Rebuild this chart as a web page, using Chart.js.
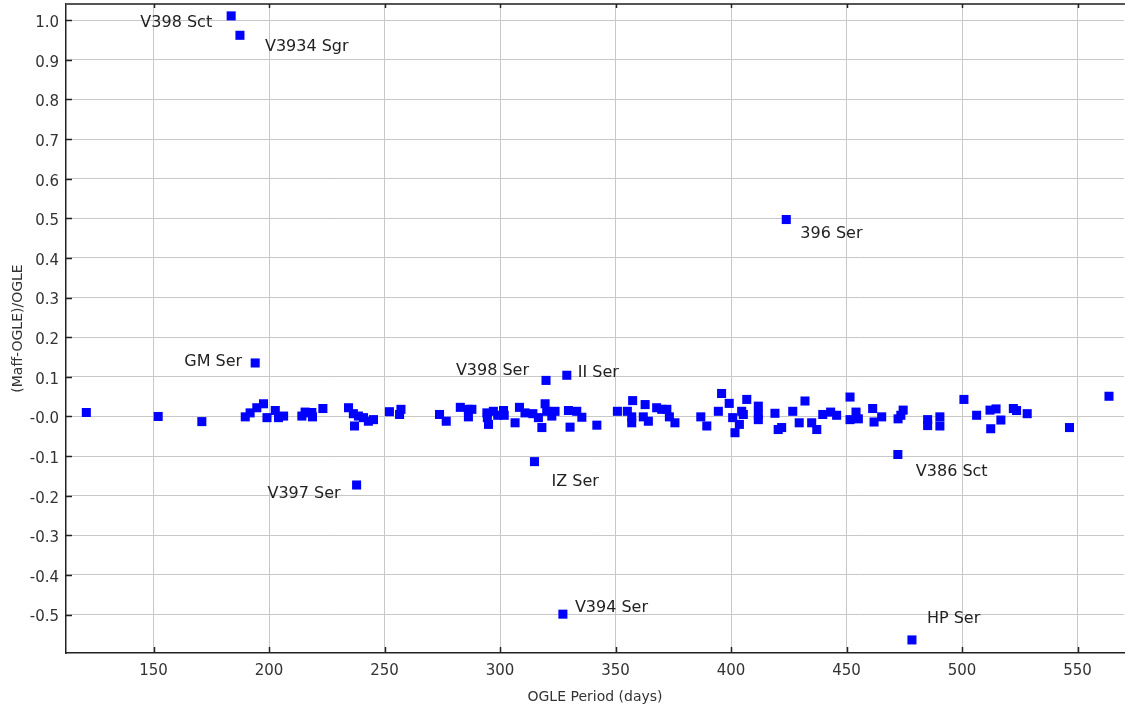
<!DOCTYPE html>
<html>
<head>
<meta charset="utf-8">
<script src="https://cdn.jsdelivr.net/npm/chart.js@4/dist/chart.umd.min.js"></script>
<style>
    html, body { margin: 0; padding: 0; background: #fff; overflow: hidden; }
    #wrap { width: 1125px; height: 711px; position: relative; }
    canvas { display: block; }
</style>
</head>
<body>
<div id="wrap"><canvas id="period-chart"></canvas></div>
<script>
// OGLE period (days) vs relative period difference, bulk of the sample
const periods = [
    120.9, 152.0, 170.9,
    189.7, 191.8, 194.7, 197.6, 199.1, 202.7, 204.1, 206.3,
    214.2, 215.6, 217.1, 218.5, 218.8, 223.3,
    234.4, 236.5, 237.0, 238.7, 240.9, 243.0, 245.2, 252.1, 256.5, 257.1,
    273.8, 276.7, 282.8, 286.3, 286.3, 287.8, 294.3, 294.5, 295.0, 297.1, 299.0,
    301.5, 301.8, 306.5, 308.4, 310.8, 314.2, 316.6, 318.1, 319.5, 320.2,
    322.4, 323.8, 329.6, 330.3, 333.2, 335.4, 341.9,
    350.8, 355.1, 357.0, 357.0, 357.4, 362.0, 362.8, 364.2, 367.8, 370.0,
    372.2, 373.3, 375.7, 386.9, 389.5, 394.5, 395.9, 399.2, 400.7, 401.7,
    403.6, 404.6, 405.3, 406.8, 411.8, 411.8, 411.8, 419.0, 420.4, 421.9,
    426.7, 429.5, 432.0, 434.9, 437.1, 439.7, 443.1, 445.7, 451.5, 451.5,
    454.1, 455.1, 461.3, 461.9, 465.2, 472.3, 473.5, 474.5, 485.1, 485.1,
    490.4, 490.4, 500.8, 506.3, 512.1, 512.4, 514.7, 516.8, 522.2, 523.6,
    528.2, 546.5, 563.6,
];
const ratios = [
    0.010, 0.000, -0.013,
    -0.001, 0.009, 0.022, 0.032, -0.003, 0.015, -0.003, 0.001,
    0.001, 0.011, 0.009, 0.010, -0.001, 0.020,
    0.022, 0.007, -0.024, 0.001, -0.003, -0.012, -0.008, 0.012, 0.005, 0.018,
    0.005, -0.012, 0.023, 0.018, -0.001, 0.018, 0.009, -0.003, -0.020, 0.013, 0.003,
    0.015, 0.003, -0.016, 0.023, 0.009, 0.007, -0.003, -0.028, 0.032, 0.013,
    0.001, 0.013, 0.015, -0.027, 0.013, -0.002, -0.022,
    0.013, 0.013, -0.001, -0.016, 0.040, -0.001, 0.030, -0.012, 0.022, 0.018,
    0.018, -0.001, -0.016, -0.001, -0.024, 0.013, 0.058, 0.033, -0.003, -0.041,
    -0.020, 0.013, 0.005, 0.043, 0.026, 0.005, -0.008, 0.008, -0.033, -0.028,
    0.013, -0.016, 0.039, -0.016, -0.033, 0.005, 0.011, 0.003, 0.049, -0.008,
    0.011, -0.006, 0.020, -0.014, -0.001, -0.006, 0.003, 0.016, -0.008, -0.023,
    -0.001, -0.024, 0.043, 0.003, 0.016, -0.031, 0.019, -0.009, 0.020, 0.015,
    0.007, -0.028, 0.051,
];

// Stars that stand out, labelled by name
const starNames   = ['V398 Sct', 'V3934 Sgr', '396 Ser', 'GM Ser', 'V398 Ser', 'II Ser',
                     'IZ Ser', 'V397 Ser', 'V386 Sct', 'V394 Ser', 'HP Ser'];
const starPeriods = [183.6, 187.4, 423.9, 194.0, 319.9, 328.9, 314.9, 237.9, 472.2, 327.2, 478.3];
const starRatios  = [1.011, 0.962, 0.497, 0.135, 0.091, 0.104, -0.114, -0.173, -0.096, -0.499, -0.564];

// Label placement next to each named star: [dx, dy, align]
const LABEL_PLACE = [
    [-19,   7, 'right'], [25, 12, 'left'], [14, 14, 'left'], [-13, -1, 'right'],
    [-17, -10, 'right'], [11, -2, 'left'], [17, 20, 'left'], [-16, 9, 'right'],
    [18,  17, 'left'],   [12, -6, 'left'], [15, -21, 'left'],
];

const FONT = 'DejaVu Sans';

const allPoints = periods.map((p, i) => ({ x: p, y: ratios[i] }))
    .concat(starPeriods.map((p, i) => ({ x: p, y: starRatios[i] })));

// Keep the plot box fixed: no extra room reserved for edge labels
function fixBox(size) {
    return s => {
        if (s.isHorizontal()) s.height = size; else s.width = size;
        s.paddingTop = s.paddingBottom = s.paddingLeft = s.paddingRight = 0;
    };
}

// Frame top line and inward tick marks
const frameTicks = {
    id: 'frameTicks',
    afterDraw(chart) {
        const { ctx, chartArea: a, scales: { x, y } } = chart;
        ctx.save();
        ctx.strokeStyle = '#555';
        ctx.lineWidth = 2;
        ctx.beginPath();
        ctx.moveTo(a.left, a.top);
        ctx.lineTo(a.right + 1, a.top);
        ctx.stroke();

        ctx.strokeStyle = '#222';
        ctx.lineWidth = 1.5;
        ctx.beginPath();
        x.ticks.forEach(t => {
            const px = Math.round(x.getPixelForValue(t.value)) + 0.5;
            ctx.moveTo(px, a.bottom); ctx.lineTo(px, a.bottom - 6);
            ctx.moveTo(px, a.top);    ctx.lineTo(px, a.top + 4);
        });
        y.ticks.forEach(t => {
            const py = Math.round(y.getPixelForValue(t.value)) + 0.5;
            ctx.moveTo(a.left, py); ctx.lineTo(a.left + 6, py);
        });
        ctx.stroke();
        ctx.restore();
    },
};

// Star names beside their points
const starLabels = {
    id: 'starLabels',
    afterDatasetsDraw(chart) {
        const { ctx, scales: { x, y } } = chart;
        ctx.save();
        ctx.font = `16px "${FONT}"`;
        ctx.fillStyle = '#222';
        ctx.textBaseline = 'middle';
        starNames.forEach((name, i) => {
            const [dx, dy, align] = LABEL_PLACE[i];
            ctx.textAlign = align;
            ctx.fillText(name,
                x.getPixelForValue(starPeriods[i]) + dx,
                y.getPixelForValue(starRatios[i]) + dy);
        });
        ctx.restore();
    },
};

new Chart(document.getElementById('period-chart'), {
    type: 'scatter',
    data: {
        datasets: [{
            data: allPoints,
            pointStyle: 'rect',
            pointRadius: 6.4,
            backgroundColor: '#0000ff',
            borderWidth: 0,
        }],
    },
    options: {
        responsive: true,
        maintainAspectRatio: false,
        animation: false,
        events: [],
        layout: { autoPadding: false, padding: { top: 4, right: 1, left: 0, bottom: 0 } },
        plugins: {
            legend: { display: false },
            tooltip: { enabled: false },
        },
        scales: {
            x: {
                type: 'linear',
                min: 112.1,
                max: 570.1,
                afterFit: fixBox(58),
                grid: { color: '#c8c8c8', lineWidth: 1, drawTicks: false },
                border: { color: '#222', width: 1.5 },
                ticks: {
                    stepSize: 50,
                    includeBounds: false,
                    padding: 9,
                    color: '#333',
                    font: { family: FONT, size: 15 },
                },
                title: {
                    display: true,
                    text: 'OGLE Period (days)',
                    color: '#333',
                    font: { family: FONT, size: 14 },
                    padding: { top: 0, bottom: 5 },
                },
            },
            y: {
                type: 'linear',
                min: -0.597,
                max: 1.041,
                afterFit: fixBox(66),
                grid: { color: '#c8c8c8', lineWidth: 1, drawTicks: false },
                border: { color: '#222', width: 1.5 },
                ticks: {
                    stepSize: 0.1,
                    includeBounds: false,
                    padding: 7,
                    labelOffset: 3,
                    color: '#333',
                    font: { family: FONT, size: 15 },
                    callback: v => (Math.abs(v) < 1e-9 ? '-0.0' : v.toFixed(1)),
                },
                title: {
                    display: true,
                    text: '(Maff-OGLE)/OGLE',
                    color: '#333',
                    font: { family: FONT, size: 14 },
                    padding: { top: 10, bottom: 0 },
                },
            },
        },
    },
    plugins: [frameTicks, starLabels],
});
</script>
</body>
</html>
